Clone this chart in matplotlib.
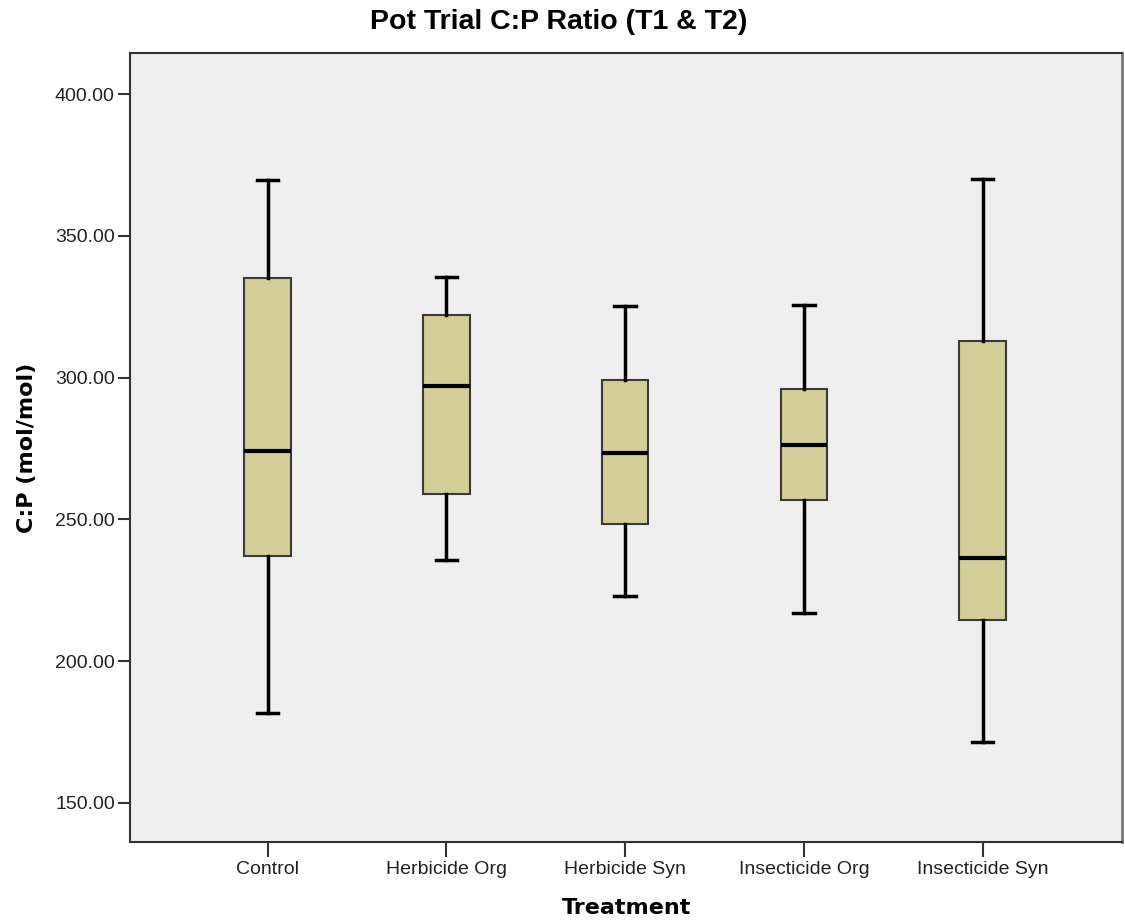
import matplotlib.pyplot as plt

plt.rcParams['font.family'] = ['Liberation Sans', 'DejaVu Sans']

treatments = ['Control', 'Herbicide Org', 'Herbicide Syn', 'Insecticide Org', 'Insecticide Syn']
whisker_low = [181.8, 235.8, 222.8, 216.8, 171.3]
q1 = [237.1, 258.8, 248.3, 256.7, 214.4]
medians = [274.1, 296.9, 273.3, 276.1, 236.3]
q3 = [335.2, 322.0, 299.1, 295.9, 312.8]
whisker_high = [369.6, 335.4, 325.2, 325.5, 370.0]
y_ticks = [150, 200, 250, 300, 350, 400]

stats = []
for name, lo, a, m, b, hi in zip(treatments, whisker_low, q1, medians, q3, whisker_high):
    stats.append(dict(label=name, whislo=lo, q1=a, med=m, q3=b, whishi=hi, fliers=[]))

fig = plt.figure(figsize=(11.25, 9.23), dpi=100)
ax = fig.add_axes([0.1156, 0.0878, 0.8818, 0.8548])
ax.set_facecolor('#efefef')

ax.bxp(stats, positions=range(len(stats)), widths=0.26, patch_artist=True,
       showfliers=False,
       boxprops=dict(facecolor='#d3ce97', edgecolor='#3a3a3a', linewidth=1.5),
       medianprops=dict(color='black', linewidth=3),
       whiskerprops=dict(color='black', linewidth=2.5),
       capprops=dict(color='black', linewidth=2.5),
       capwidths=0.12)

ax.set_xlim(-0.77, 4.78)
ax.set_ylim(136.2, 414.5)
ax.set_yticks(y_ticks)
ax.set_yticklabels([f'{v:.2f}' for v in y_ticks], fontsize=14, color='#222222')
ax.set_xticks(range(len(treatments)))
ax.set_xticklabels(treatments, fontsize=14, color='#222222')
ax.tick_params(axis='y', length=9, width=1.5, color='#333333', pad=2)
ax.tick_params(axis='x', length=11, width=1.5, color='#333333', pad=3)

for side in ['left', 'bottom', 'top']:
    ax.spines[side].set_color('#333333')
    ax.spines[side].set_linewidth(1.5)
ax.spines['right'].set_color('#777777')
ax.spines['right'].set_linewidth(2)

ax.set_xlabel('Treatment', fontsize=16, fontweight='bold', family='DejaVu Sans', labelpad=14)
ax.set_ylabel('C:P (mol/mol)', fontsize=16, fontweight='bold', family='DejaVu Sans', labelpad=13)
fig.suptitle('Pot Trial C:P Ratio (T1 & T2)', fontsize=20.5, fontweight='bold', x=0.497, y=0.99)

fig.savefig('out.png', dpi=100)
